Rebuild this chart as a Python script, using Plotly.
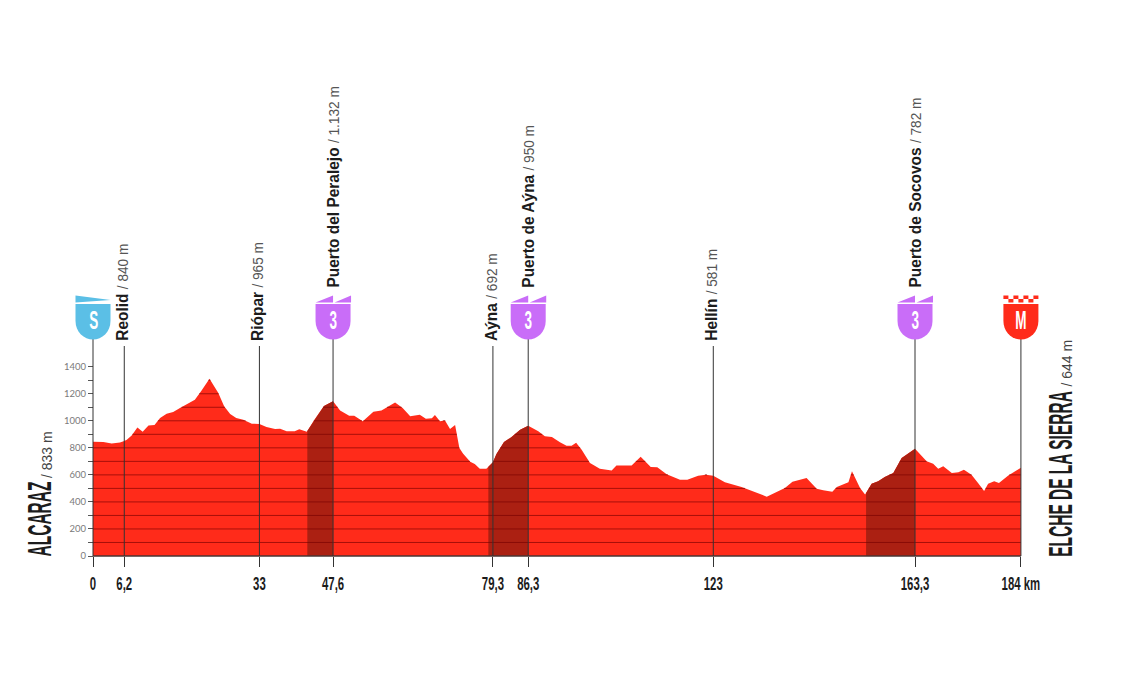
import json

import numpy as np
import plotly.graph_objects as go

# profile
km = [0, 2.05, 3.7, 5.35, 6.2, 6.7, 7.67, 8.8, 9.85, 11, 12.2, 13.3, 14.6, 15.9, 17.25, 18.9, 20.2, 21.5, 23.1,
      24.85, 26, 27.2, 28.4, 29.8, 31.5, 33, 34.4, 36.1, 37.1, 38.4, 40, 40.9, 42.4, 44, 45.8, 47.6, 49, 50.8,
      51.8, 53.5, 55.6, 57.2, 58.4, 59.9, 61.4, 62.9, 64.8, 66, 67.2, 67.8, 68.8, 69.8, 70.8, 71.8, 72.65, 73.4,
      74.8, 75.7, 76.7, 78, 79.3, 80, 81.5, 83, 84.7, 86.3, 88.3, 89.6, 91, 92.6, 93.9, 94.9, 95.8, 96.9, 98.55,
      100.5, 102.85, 103.8, 106.8, 108.6, 110.6, 111.9, 113.75, 116.4, 117.85, 120, 121.55, 123, 125.3, 128.6,
      133.6, 137.2, 138.7, 141.5, 143.5, 144.8, 146.6, 147.5, 149.8, 150.5, 152.1, 153.1, 154.4, 155.7, 157,
      158.7, 160.35, 161.3, 163, 165.3, 166.6, 167.6, 168.6, 170.3, 171.6, 172.7, 174.2, 175.5, 176.7, 177.5,
      178.7, 179.65, 181.5, 184]
elev = [845, 843, 833, 840, 850, 860, 892, 951, 919, 966, 969, 1020, 1052, 1065, 1094, 1126, 1156, 1222, 1311,
        1205, 1107, 1050, 1020, 1008, 979, 976, 954, 939, 941, 922, 922, 937, 919, 1013, 1109, 1144, 1077, 1038,
        1038, 996, 1067, 1077, 1102, 1136, 1094, 1033, 1045, 1016, 1018, 1043, 996, 1003, 939, 969, 799, 757,
        698, 680, 646, 646, 693, 754, 843, 880, 934, 964, 922, 885, 880, 841, 816, 816, 838, 786, 688,
        646, 633, 670, 670, 735, 658, 656, 604, 564, 564, 594, 601, 594, 545, 510,
        439, 503, 550, 577, 498, 486, 476, 510, 545, 626, 503, 454, 535, 552, 584,
        614, 725, 749, 794, 700, 683, 646, 663, 614, 619, 638, 601, 540, 481, 535,
        552, 540, 596, 653]

# climbs, start and summit km
climb_start = [42.5, 78.4, 153.3]
climb_end = [47.6, 86.3, 163]

mark_km = [6.2, 33, 79.3, 123]
mark_names = ["Reolid", "Riópar", "Aýna", "Hellín"]
mark_alts = ["840 m", "965 m", "692 m", "581 m"]

climb_names = ["Puerto del Peralejo", "Puerto de Aýna", "Puerto de Socovos"]
climb_alts = ["1.132 m", "950 m", "782 m"]

tick_km = [0, 6.2, 33, 47.6, 79.3, 86.3, 123, 163, 184]
tick_labels = ["0", "6,2", "33", "47,6", "79,3", "86,3", "123", "163,3", "184 km"]
alt_ticks = list(range(0, 1500, 100))

RED = "#ff2b1a"
DARK = "#ab2012"
PURPLE = "#c96df8"
BLUE = "#5bbfe6"
TEXT = "#1c1c1c"
SANS = "Liberation Sans"

PX_KM = 5.043
PX_M = 0.1352
W, H = 1129, 682
X0, Y0 = 93, 556

km = np.array(km, dtype=float)
elev = np.array(elev, dtype=float)

fig = go.Figure()

fig.add_trace(go.Scatter(x=km, y=elev, mode="lines", line=dict(width=0), fill="tozeroy",
                         fillcolor=RED, hoverinfo="skip"))

for a, b in zip(climb_start, climb_end):
    inside = (km > a) & (km < b)
    xs = np.concatenate([[a], km[inside], [b]])
    ys = np.interp(xs, km, elev)
    fig.add_trace(go.Scatter(x=xs, y=ys, mode="lines", line=dict(width=0), fill="tozeroy",
                             fillcolor=DARK, hoverinfo="skip"))

# horizontal lines only exist inside the filled profile
for level in alt_ticks[1:]:
    above = elev - level
    cross = np.where(above[:-1] * above[1:] < 0)[0]
    cross_x = km[cross] + (km[cross + 1] - km[cross]) * (level - elev[cross]) / (elev[cross + 1] - elev[cross])
    xs = np.sort(np.concatenate([km, cross_x]))
    ys = np.interp(xs, km, elev)
    ys = np.where(ys >= level - 1e-6, float(level), np.nan)
    fig.add_trace(go.Scatter(x=xs, y=ys, mode="lines", line=dict(color="rgba(120,0,0,0.65)", width=1),
                             connectgaps=False, hoverinfo="skip"))

# base line
fig.add_trace(go.Scatter(x=[km[0], km[-1]], y=[0, 0], mode="lines", line=dict(color="#4a3533", width=1.5),
                         hoverinfo="skip"))

shapes = []


def vline(x, height):
    shapes.append(dict(type="line", xref="x", yref="y", ysizemode="pixel", yanchor=0, x0=x, x1=x,
                       y0=0, y1=height, line=dict(color="#333333", width=1)))


def badge(x, color, top):
    shield = "M -17.5 252 L 17.5 252 L 17.5 235 C 17.5 224 9 216.5 0 216.5 C -9 216.5 -17.5 224 -17.5 235 Z"
    for path in [shield, top]:
        shapes.append(dict(type="path", xref="x", yref="y", xsizemode="pixel", ysizemode="pixel",
                           xanchor=x, yanchor=0, path=path, fillcolor=color, line=dict(width=0)))


FLAG = "M -17.5 260.5 L 17.5 256 L -17.5 253.5 Z"
WEDGES = "M -17.5 253.5 L 0 260.5 L 0 253.5 Z M 1.5 253.5 L 18 260.5 L 18 253.5 Z"
CHECKS = " ".join(
    f"M {-17.5 + i * 5} {r0} L {-12.5 + i * 5} {r0} L {-12.5 + i * 5} {r0 + 3.5} L {-17.5 + i * 5} {r0 + 3.5} Z"
    for i in range(7) for r0 in ([257] if i % 2 == 0 else [253.5])
)

for x in mark_km:
    vline(x, 210)
for x in climb_end + [km[0], km[-1]]:
    vline(x, 217)

badge(km[0], BLUE, FLAG)
for x in climb_end:
    badge(x, PURPLE, WEDGES)
badge(km[-1], RED, CHECKS)

annotations = []
# text -> horizontal and vertical stretch, the original type is a condensed face
stretch = {}


def place_label(x, xoff, bottom, name, alt):
    text = f"<b>{name}</b> <span style='font-size:15px;color:#555555'>/ {alt}</span>"
    annotations.append(dict(x=x, y=0, xref="x", yref="y", xshift=xoff, yshift=bottom, showarrow=False,
                            textangle=-90, xanchor="center", yanchor="bottom", text=text,
                            font=dict(family=SANS, size=17, color=TEXT)))
    stretch[f"{name} / {alt}"] = [0.91, 1]


for x, name, alt in zip(mark_km, mark_names, mark_alts):
    place_label(x, -2, 213, name, alt)
for x, name, alt in zip(climb_end, climb_names, climb_alts):
    place_label(x, 0, 266, name, alt)


def badge_letter(x, letter):
    annotations.append(dict(x=x, y=0, xref="x", yref="y", yshift=236, showarrow=False, text=f"<b>{letter}</b>",
                            xanchor="center", yanchor="middle",
                            font=dict(family=SANS, size=26, color="white")))
    stretch[letter] = [0.52, 1, "center"]


badge_letter(km[0], "S")
for x in climb_end:
    badge_letter(x, "3")
badge_letter(km[-1], "M")


def place_title(x, xoff, lift, name, alt, name_sx):
    annotations.append(dict(x=x, y=0, xref="x", yref="y", xshift=xoff, yshift=-3, showarrow=False, textangle=-90,
                            xanchor="center", yanchor="bottom", text=f"<b>{name}</b>",
                            font=dict(family=SANS, size=33, color=TEXT)))
    stretch[name] = [name_sx, 1]
    annotations.append(dict(x=x, y=0, xref="x", yref="y", xshift=xoff + 6, yshift=lift, showarrow=False,
                            textangle=-90, xanchor="center", yanchor="bottom", text=f"/ {alt}",
                            font=dict(family=SANS, size=15, color="#444444")))
    stretch[f"/ {alt}"] = [0.93, 1]


place_title(km[0], -53, 76, "ALCARAZ", "833 m", 0.47)
place_title(km[-1], 39.5, 168, "ELCHE DE LA SIERRA", "644 m", 0.47)

fig.update_layout(
    width=W, height=H,
    margin=dict(l=0, r=0, t=0, b=0),
    paper_bgcolor="white", plot_bgcolor="white",
    showlegend=False,
    shapes=shapes,
    annotations=annotations,
    xaxis=dict(range=[-X0 / PX_KM, (W - X0) / PX_KM], domain=[0, 1], anchor="free", position=(H - Y0) / H,
               tickmode="array", tickvals=tick_km, ticktext=tick_labels, ticks="outside", ticklen=10, tickangle=0,
               tickcolor="#333333", showgrid=False, zeroline=False, showline=False,
               tickfont=dict(family=SANS, size=19, color=TEXT, weight=700)),
    yaxis=dict(range=[-(H - Y0) / PX_M, Y0 / PX_M], domain=[0, 1], anchor="free", position=X0 / W,
               tickmode="array", tickvals=alt_ticks,
               ticktext=[str(v) if v % 200 == 0 else "" for v in alt_ticks],
               ticks="outside", ticklen=5, tickcolor="#555555", showgrid=False, zeroline=False, showline=False,
               tickfont=dict(family="Lato", size=9.5, color="#7a7a7a")),
)

# body margin off, then squeeze the text into the condensed proportions
POST = """
document.body.style.margin = '0';
var stretch = %s;
document.querySelectorAll('g.annotation text').forEach(function (n) {
  var s = stretch[n.textContent];
  if (!s) return;
  n.style.transformBox = 'fill-box';
  n.style.transformOrigin = (s[2] || 'left') + ' center';
  n.style.transform = 'scale(' + s[0] + ',' + s[1] + ')';
});
document.querySelectorAll('.xtick text').forEach(function (n) {
  var b = n.getBBox();
  var c = b.x + b.width / 2;
  var tr = n.getAttribute('transform') || '';
  n.setAttribute('transform', tr + ' translate(' + c + ',0) scale(0.6,1) translate(' + (-c) + ',0)');
});
""" % json.dumps(stretch)

fig.write_html("out.html", post_script=POST, config=dict(displayModeBar=False))
